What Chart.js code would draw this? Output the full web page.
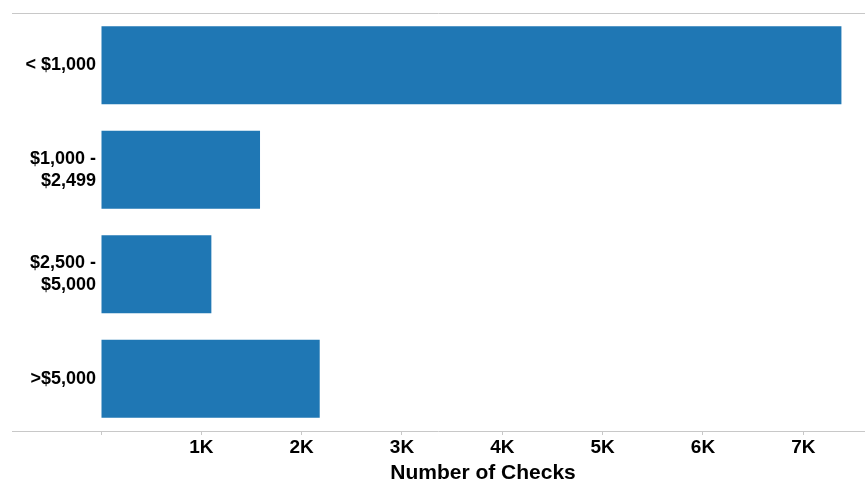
<!DOCTYPE html>
<html>
<head>
<meta charset="utf-8">
<script src="https://cdn.jsdelivr.net/npm/chart.js@4/dist/chart.umd.min.js"></script>
<style>
  html, body { margin: 0; padding: 0; background: #fff; }
  #wrap { width: 865px; height: 481px; }
</style>
</head>
<body>
<div id="wrap"><canvas id="checksChart"></canvas></div>
<script>
const categories = [['< $1,000'], ['$1,000 -', '$2,499'], ['$2,500 -', '$5,000'], ['>$5,000']];
const checkCounts = [7380, 1585, 1100, 2180];
const tickValues = [1000, 2000, 3000, 4000, 5000, 6000, 7000];

// horizontal rules above and below the bars, running into the label area
const frameLines = {
    id: 'frameLines',
    afterDraw(chart) {
        const c = chart.ctx;
        const area = chart.chartArea;
        c.save();
        c.strokeStyle = '#c8c8c8';
        c.lineWidth = 1;
        c.beginPath();
        c.moveTo(12, area.top + 0.5);
        c.lineTo(chart.width, area.top + 0.5);
        c.moveTo(12, area.bottom + 0.5);
        c.lineTo(chart.width, area.bottom + 0.5);
        c.stroke();
        c.restore();
    }
};

const ctx = document.getElementById("checksChart").getContext("2d");
chart = new Chart(ctx, {
    type: 'bar',
    data: {
        labels: categories,
        datasets: [
            {
                label: 'Number of Checks',
                data: checkCounts,
                backgroundColor: '#1f77b4',
                borderWidth: 0,
                barPercentage: 0.746,
                categoryPercentage: 1
            }
        ]
    },
    options: {
        indexAxis: 'y',
        responsive: true,
        maintainAspectRatio: false,
        animation: false,
        layout: { padding: { top: 13, right: 0, left: 0, bottom: 0 } },
        scales: {
            x: {
                min: 0,
                max: 7615,
                afterBuildTicks: (axis) => {
                    axis.ticks = [0].concat(tickValues).map(v => ({ value: v }));
                },
                afterFit: (axis) => { axis.height = 50; axis.paddingLeft = 0; axis.paddingRight = 0; },
                border: { display: false },
                grid: {
                    drawOnChartArea: false,
                    drawTicks: true,
                    tickLength: 4,
                    color: '#c8c8c8'
                },
                ticks: {
                    autoSkip: false,
                    maxRotation: 0,
                    padding: 1,
                    color: '#000',
                    font: { family: 'Liberation Sans, Arial, sans-serif', size: 19, weight: 'bold' },
                    callback: (v) => v === 0 ? '' : (v / 1000) + 'K'
                },
                title: {
                    display: true,
                    text: 'Number of Checks',
                    color: '#000',
                    padding: { top: 0, bottom: -5 },
                    font: { family: 'Liberation Sans, Arial, sans-serif', size: 21, weight: 'bold' }
                }
            },
            y: {
                afterFit: (axis) => { axis.width = 101; axis.paddingTop = 0; axis.paddingBottom = 0; },
                border: { display: false },
                grid: { display: false, drawTicks: false },
                ticks: {
                    padding: 5,
                    color: '#000',
                    font: { family: 'Liberation Sans, Arial, sans-serif', size: 18, weight: 'bold', lineHeight: 1.22 }
                }
            }
        },
        plugins: {
            legend: { display: false },
            tooltip: { enabled: false }
        }
    },
    plugins: [frameLines]
});
</script>
</body>
</html>
